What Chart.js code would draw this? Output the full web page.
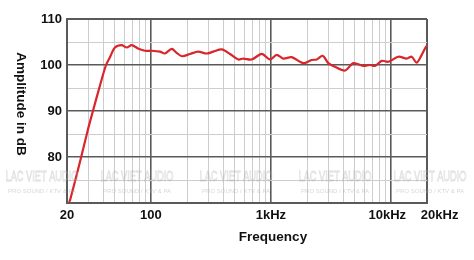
<!DOCTYPE html>
<html><head><meta charset="utf-8">
<script src="https://cdn.jsdelivr.net/npm/chart.js@4/dist/chart.umd.min.js"></script>
<style>html,body{margin:0;padding:0;background:#fff}#wrap{width:474px;height:260px}</style>
</head><body><div id="wrap"><canvas id="c" width="474" height="260"></canvas></div>
<script>
const frequencies = [20.8, 21.2, 25.7, 29.9, 32.9, 37.7, 42.3, 45.6, 50.2, 57.1, 62.9, 69.2, 78.1, 89.3, 101.6, 119, 131, 149, 163, 182, 212, 248, 292, 331, 389, 456, 535, 589, 692, 839, 983, 1118, 1269, 1491, 1862, 2188, 2408, 2704, 3010, 3422, 4149, 4864, 5890, 6699, 7374, 8386, 9516, 11535, 13548, 14912, 16408, 18072, 19246, 20000];
const amplitudeDb = [70.2, 70.6, 79.0, 86.0, 90.0, 95.6, 100.0, 101.7, 103.8, 104.3, 103.8, 104.3, 103.6, 103.1, 103.1, 102.9, 102.5, 103.5, 102.7, 101.9, 102.4, 102.9, 102.5, 102.9, 103.4, 102.4, 101.2, 101.4, 101.2, 102.4, 101.2, 102.2, 101.4, 101.7, 100.4, 101.1, 101.2, 102.0, 100.4, 99.6, 98.8, 100.4, 99.8, 100.0, 99.8, 100.9, 100.7, 101.8, 101.4, 101.8, 100.5, 102.2, 103.6, 104.2];
const xTickValues = [20, 30, 40, 50, 60, 70, 80, 90, 100, 200, 300, 400, 500, 600, 700, 800, 900, 1000, 2000, 3000, 4000, 5000, 6000, 7000, 8000, 9000, 10000, 20000];
const xTickLabels = {20: '20', 100: '100', 1000: '1kHz', 10000: '10kHz  ', 20000: '       20kHz'};
const xMajor = [100, 1000, 10000];
const yTickValues = [70, 75, 80, 85, 90, 95, 100, 105, 110];
const yTickLabels = {80: '80', 90: '90', 100: '100', 110: '110'};
const yMajor = [80, 90, 100];
const xTitle = 'Frequency';
const yTitle = 'Amplitude in dB';
const watermark = 'LAC VIET AUDIO';
const watermarkSub = 'PRO SOUND / KTV & PA';

const points = frequencies.map((f, i) => ({x: f, y: amplitudeDb[i]}));
const DARK = '#5a5a5a', LIGHT = '#cdcdcd';
const tickFont = {family: "'Liberation Sans', Arial, sans-serif", size: 13, weight: 'bold'};

const overlay = {
  id: 'overlay',
  afterDraw(chart) {
    const ctx = chart.ctx;
    ctx.save();
    const centers = [42, 137, 236, 335, 430];
    ctx.textAlign = 'center';
    ctx.textBaseline = 'middle';
    centers.forEach(cx => {
      ctx.font = "15px 'Liberation Sans Narrow', 'Liberation Sans', sans-serif";
      let w = ctx.measureText(watermark).width;
      ctx.save();
      ctx.translate(cx, 177);
      ctx.scale(73 / w, 1);
      ctx.strokeStyle = 'rgba(175,175,175,0.45)';
      ctx.lineWidth = 0.8;
      ctx.strokeText(watermark, 0, 0);
      ctx.restore();
      ctx.font = "6px 'Liberation Sans', sans-serif";
      ctx.fillStyle = 'rgba(175,175,175,0.5)';
      ctx.fillText(watermarkSub, cx, 191);
    });
    ctx.fillStyle = '#111';
    ctx.font = "bold 13.5px 'Liberation Sans', Arial, sans-serif";
    ctx.fillText(xTitle, 273, 237);
    ctx.translate(21, 104);
    ctx.rotate(Math.PI / 2);
    ctx.fillText(yTitle, 0, 0);
    ctx.restore();
  }
};

new Chart(document.getElementById('c'), {
  type: 'line',
  data: {
    datasets: [{
      data: points,
      borderColor: '#d9262a',
      borderWidth: 2.2,
      pointRadius: 0,
      tension: 0.3,
      fill: false
    }]
  },
  options: {
    responsive: false,
    animation: false,
    layout: {padding: {left: 0, top: 19, right: 47, bottom: 0}},
    plugins: {legend: {display: false}, tooltip: {enabled: false}},
    scales: {
      x: {
        type: 'logarithmic',
        min: 20, max: 20000,
        afterBuildTicks: s => { s.ticks = xTickValues.map(v => ({value: v})); },
        afterFit: s => { s.height = 57; },
        border: {color: DARK, width: 2},
        grid: {
          drawTicks: false,
          color: c => (xMajor.includes(c.tick.value) || c.tick.value === 20000 || c.tick.value === 20) ? DARK : LIGHT,
          lineWidth: c => (xMajor.includes(c.tick.value)) ? 1.6 : (c.tick.value === 20000 || c.tick.value === 20 ? 2 : 1)
        },
        ticks: {
          autoSkip: false, maxRotation: 0, padding: 5,
          color: '#111', font: tickFont,
          callback: v => xTickLabels[v] || ''
        }
      },
      y: {
        min: 70, max: 110,
        afterBuildTicks: s => { s.ticks = yTickValues.map(v => ({value: v})); },
        afterFit: s => { s.width = 67; },
        border: {color: DARK, width: 2},
        grid: {
          drawTicks: false,
          color: c => (yMajor.includes(c.tick.value) || c.tick.value === 110 || c.tick.value === 70) ? DARK : LIGHT,
          lineWidth: c => (yMajor.includes(c.tick.value)) ? 1.6 : (c.tick.value === 110 || c.tick.value === 70 ? 2 : 1)
        },
        ticks: {
          autoSkip: false, padding: 5,
          color: '#111', font: tickFont,
          callback: v => yTickLabels[v] || ''
        }
      }
    }
  },
  plugins: [overlay]
});
</script>
</body></html>
